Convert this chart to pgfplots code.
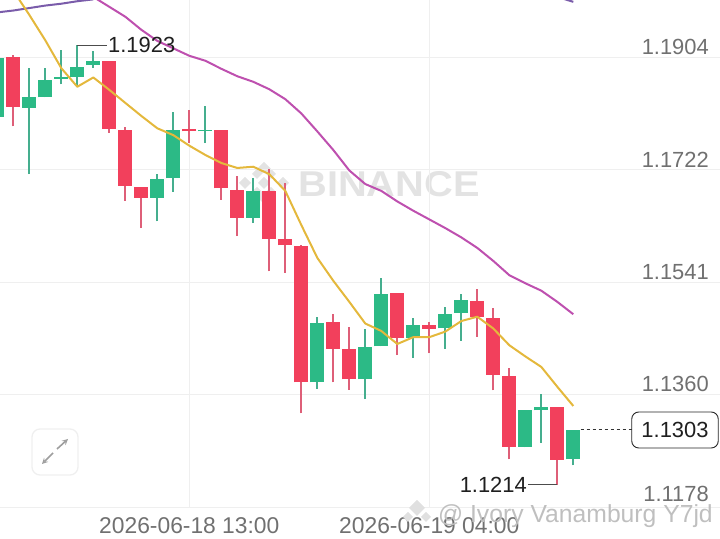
\documentclass[border=0pt]{standalone}
\usepackage{pgfplots}
\pgfplotsset{compat=1.18}
\usepackage{fontspec}
\setmainfont{Liberation Sans}
\definecolor{cred}{HTML}{F2405C}
\definecolor{cgreen}{HTML}{2CBA86}
\definecolor{wred}{HTML}{DE5F78}
\definecolor{wgreen}{HTML}{45AE8E}
\definecolor{gridc}{HTML}{EFEFEF}
\definecolor{lab}{HTML}{707070}
\definecolor{wm}{HTML}{E3E3E3}
\newcommand{\cs}[6]{% index, low, bottom, top, high, colour
  \addplot[w#6, line width=2bp, forget plot] coordinates {(#1,#2) (#1,#5)};
  \addplot[c#6, line width=14bp, forget plot] coordinates {(#1,#3) (#1,#4)};
}
\begin{document}
\begin{tikzpicture}
\useasboundingbox (0,-32bp) rectangle (720bp,507bp);
% watermarks behind the chart
\begin{scope}[x=1bp,y=-1bp,yshift=507bp]
  \node[text=wm, font=\fontsize{36}{40}\selectfont\bfseries, xscale=1.11, inner sep=0pt] at (389,184) {BINANCE};
  \fill[wm] (264,162) -- (276,174) -- (271,179) -- (264,172) -- (257,179) -- (252,174) -- cycle;
  \fill[wm] (245,177) -- (251,183) -- (245,189) -- (239,183) -- cycle;
  \fill[wm] (264,177) -- (270,183) -- (264,189) -- (258,183) -- cycle;
  \fill[wm] (283,177) -- (289,183) -- (283,189) -- (277,183) -- cycle;
  \fill[wm] (264,204) -- (276,192) -- (271,187) -- (264,194) -- (257,187) -- (252,192) -- cycle;
\end{scope}
\begin{axis}[
  at={(0,0)}, anchor=south west,
  scale only axis, width=720bp, height=507bp,
  xmin=-0.83125, xmax=44.169, ymin=1.1178, ymax=1.1996,
  axis line style={draw=none},
  major tick length=0pt,
  xtick={11,26},
  xticklabels={2026-06-18 13:00,2026-06-19 04:00},
  ytick={1.1360,1.1541,1.1722,1.1904},
  extra y ticks={1.1178},
  extra y tick style={yticklabel style={yshift=3bp}},
  yticklabel pos=right,
  yticklabel style={/pgf/number format/.cd, fixed, fixed zerofill, precision=4, assume math mode=true,
    /tikz/.cd, anchor=south east, xshift=-11bp, yshift=2.5bp, inner sep=0pt,
    text=lab, font=\fontsize{22}{24}\selectfont},
  xticklabel style={text=lab, font=\fontsize{22.9}{25}\selectfont, yshift=-10bp, inner sep=0pt},
  grid=major, grid style={color=gridc, line width=1bp},
  clip=true,
]
\cs{-1}{1.1808}{1.1808}{1.1903}{1.1904}{green}
\cs{0}{1.1792}{1.1824}{1.1904}{1.1908}{red}
\cs{1}{1.1715}{1.1822}{1.1839}{1.1887}{green}
\cs{2}{1.1839}{1.1839}{1.1867}{1.1887}{green}
\cs{3}{1.1860}{1.1869}{1.1871}{1.1915}{green}
\cs{4}{1.1855}{1.1871}{1.1888}{1.1923}{green}
\cs{5}{1.1887}{1.1891}{1.1897}{1.1914}{green}
\cs{6}{1.1782}{1.1788}{1.1897}{1.1897}{red}
\cs{7}{1.1672}{1.1696}{1.1787}{1.1791}{red}
\cs{8}{1.1628}{1.1677}{1.1694}{1.1694}{red}
\cs{9}{1.1639}{1.1677}{1.1707}{1.1715}{green}
\cs{10}{1.1687}{1.1708}{1.1786}{1.1815}{green}
\cs{11}{1.1766}{1.1784}{1.1788}{1.1818}{red}
\cs{12}{1.1765}{1.1784}{1.1787}{1.1825}{green}
\cs{13}{1.1674}{1.1692}{1.1786}{1.1786}{red}
\cs{14}{1.1615}{1.1645}{1.1690}{1.1712}{red}
\cs{15}{1.1636}{1.1645}{1.1688}{1.1708}{green}
\cs{16}{1.1558}{1.1611}{1.1688}{1.1724}{red}
\cs{17}{1.1556}{1.1600}{1.1610}{1.1700}{red}
\cs{18}{1.1329}{1.1379}{1.1599}{1.1600}{red}
\cs{19}{1.1369}{1.1379}{1.1475}{1.1484}{green}
\cs{20}{1.1379}{1.1433}{1.1476}{1.1489}{red}
\cs{21}{1.1367}{1.1384}{1.1433}{1.1469}{red}
\cs{22}{1.1352}{1.1384}{1.1436}{1.1465}{green}
\cs{23}{1.1437}{1.1437}{1.1522}{1.1547}{green}
\cs{24}{1.1423}{1.1450}{1.1523}{1.1523}{red}
\cs{25}{1.1419}{1.1450}{1.1472}{1.1483}{green}
\cs{26}{1.1426}{1.1465}{1.1471}{1.1476}{red}
\cs{27}{1.1433}{1.1466}{1.1489}{1.1501}{green}
\cs{28}{1.1446}{1.1491}{1.1512}{1.1522}{green}
\cs{29}{1.1453}{1.1484}{1.1511}{1.1529}{red}
\cs{30}{1.1366}{1.1391}{1.1483}{1.1499}{red}
\cs{31}{1.1255}{1.1275}{1.1389}{1.1403}{red}
\cs{32}{1.1274}{1.1275}{1.1334}{1.1334}{green}
\cs{33}{1.1282}{1.1334}{1.1340}{1.1361}{green}
\cs{34}{1.1214}{1.1254}{1.1340}{1.1340}{red}
\cs{35}{1.1245}{1.1255}{1.1303}{1.1303}{green}
% long moving average
\addplot[color={rgb,255:red,122;green,92;blue,170}, line width=2bp] coordinates {
 (-1,1.1976)(0,1.1979)(1,1.1983)(2,1.1987)(3,1.1990)(4,1.1994)(5,1.1997)};
\addplot[color={rgb,255:red,122;green,92;blue,170}, line width=2bp] coordinates {(34,1.2001)(35,1.1993)};
% MA25
\addplot[color={rgb,255:red,190;green,80;blue,175}, line width=2bp, line join=round] coordinates {
 (5,1.2001)(6,1.1985)(7,1.1969)(8,1.1948)(9,1.1930)(10,1.1918)(11,1.1906)(12,1.1898)
 (13,1.1885)(14,1.1873)(15,1.1864)(16,1.1852)(17,1.1836)(18,1.1813)(19,1.1784)(20,1.1754)
 (21,1.1721)(22,1.1699)(23,1.1688)(24,1.1671)(25,1.1656)(26,1.1642)(27,1.1628)(28,1.1613)
 (29,1.1596)(30,1.1575)(31,1.1552)(32,1.1539)(33,1.1527)(34,1.1509)(35,1.1489)};
% MA7
\addplot[color={rgb,255:red,228;green,184;blue,60}, line width=2bp, line join=round] coordinates {
 (0,1.2011)(1,1.1972)(2,1.1931)(3,1.1886)(4,1.1856)(5,1.1871)(6,1.1851)(7,1.1830)(8,1.1809)
 (9,1.1789)(10,1.1778)(11,1.1761)(12,1.1746)(13,1.1733)(14,1.1725)(15,1.1727)(16,1.1715)
 (17,1.1688)(18,1.1633)(19,1.1580)(20,1.1543)(21,1.1509)(22,1.1474)(23,1.1462)(24,1.1441)
 (25,1.1452)(26,1.1452)(27,1.1461)(28,1.1478)(29,1.1485)(30,1.1466)(31,1.1439)(32,1.1421)
 (33,1.1404)(34,1.1372)(35,1.1341)};
% high / low leaders and last price line
\addplot[color=black!70, line width=1bp] coordinates {(4,1.1923)(5.856,1.1923)};
\addplot[color=black!70, line width=1bp] coordinates {(34,1.1214)(32.17,1.1214)};
\addplot[color=black!80, line width=0.9bp, dash pattern=on 3bp off 3bp] coordinates {(35.45,1.1303)(38.67,1.1303)};
\end{axis}
\begin{scope}[x=1bp,y=-1bp,yshift=507bp]
  \node[anchor=west, inner sep=0pt, text=black!88, font=\fontsize{22}{24}\selectfont] at (108,45) {1.1923};
  \node[anchor=east, inner sep=0pt, text=black!88, font=\fontsize{22}{24}\selectfont] at (527,485) {1.1214};
  \node[draw=black!85, line width=0.9bp, rounded corners=7bp, fill=white, minimum width=86.5bp, minimum height=36bp, inner sep=0pt,
        text=black!88, font=\fontsize{22}{24}\selectfont] at (675,430) {1.1303};
  % expand button
  \draw[gridc, line width=1.3bp, rounded corners=8bp] (32,429) rectangle (78,475);
  \draw[black!38, line width=1.6bp, ->, >=stealth] (57,449) -- (68,439);
  \draw[black!38, line width=1.6bp, ->, >=stealth] (53,453) -- (42,464);
  % author watermark
  \node[anchor=west, inner sep=0pt, text=black!25, font=\fontsize{24.8}{27}\selectfont] at (438,516) {@ Ivory Vanamburg Y7jd};
  \fill[black!12] (417,500) -- (425,508) -- (417,516) -- (409,508) -- cycle;
  \fill[black!12] (408,512) -- (413,517) -- (408,522) -- (403,517) -- cycle;
  \fill[black!12] (426,512) -- (431,517) -- (426,522) -- (421,517) -- cycle;
\end{scope}
\end{tikzpicture}
\end{document}
